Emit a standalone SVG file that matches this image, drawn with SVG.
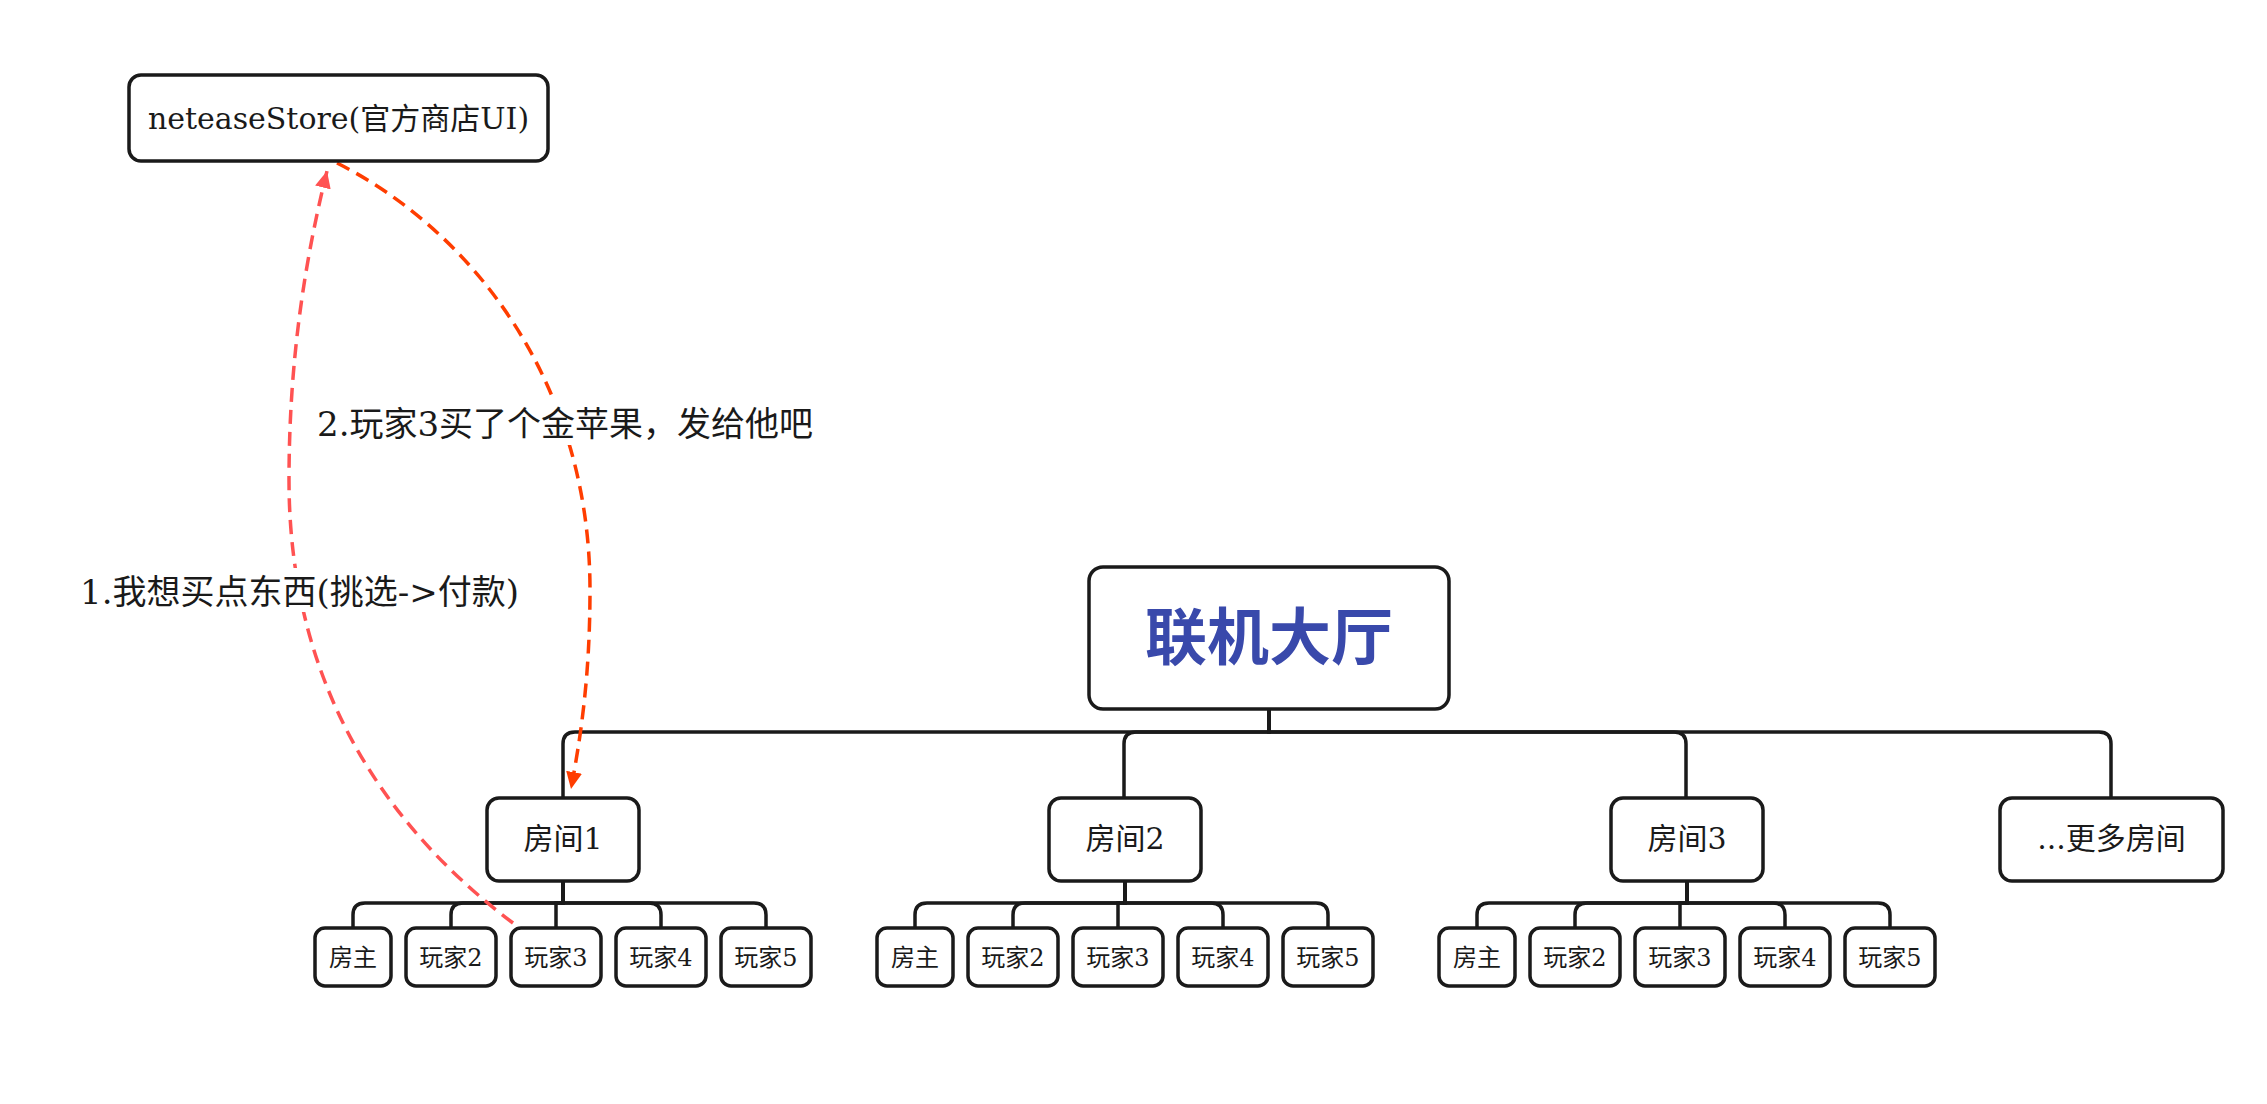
<svg xmlns="http://www.w3.org/2000/svg" width="2267" height="1104" viewBox="0 0 2267 1104">
<style>
.box{fill:#fff;stroke:#1a1a1a;stroke-width:3.5}
.t{font-family:'DejaVu Serif','Noto Sans CJK SC',serif;fill:#1a1a1a;text-anchor:middle}
.lbl{font-family:'DejaVu Serif','Noto Sans CJK SC',serif;fill:#1a1a1a;font-size:34px}
.room{font-size:30px}
.kid{font-size:24px}
.conn{fill:none;stroke:#1a1a1a;stroke-width:3.5}
.c1{fill:none;stroke:#ff5252;stroke-width:3.5;stroke-dasharray:14 8}
.c2{fill:none;stroke:#ff3d00;stroke-width:3.5;stroke-dasharray:14 8}
</style>
<defs>
<marker id="a1" markerUnits="userSpaceOnUse" markerWidth="18" markerHeight="16" refX="17" refY="8" orient="auto"><path d="M0,0 L17,8 L0,16 Z" fill="#ff5252"/></marker>
<marker id="a2" markerUnits="userSpaceOnUse" markerWidth="18" markerHeight="16" refX="17" refY="8" orient="auto"><path d="M0,0 L17,8 L0,16 Z" fill="#ff3d00"/></marker>
</defs>
<rect width="2267" height="1104" fill="#fff"/>
<g id="connectors">
<path class="conn" d="M1269 709 V732 H575 Q563 732 563 744 V798"/>
<path class="conn" d="M1269 709 V732 H1136 Q1124 732 1124 744 V798"/>
<path class="conn" d="M1269 709 V732 H1674 Q1686 732 1686 744 V798"/>
<path class="conn" d="M1269 709 V732 H2099 Q2111 732 2111 744 V798"/>
<g id="kids1">
<path class="conn" d="M563 881 V903 H365 Q353 903 353 915 V928"/>
<path class="conn" d="M563 881 V903 H463 Q451 903 451 915 V928"/>
<path class="conn" d="M563 881 V903 H556 V928"/>
<path class="conn" d="M563 881 V903 H649 Q661 903 661 915 V928"/>
<path class="conn" d="M563 881 V903 H754 Q766 903 766 915 V928"/>
</g>
<g transform="translate(562 0)">
<path class="conn" d="M563 881 V903 H365 Q353 903 353 915 V928"/>
<path class="conn" d="M563 881 V903 H463 Q451 903 451 915 V928"/>
<path class="conn" d="M563 881 V903 H556 V928"/>
<path class="conn" d="M563 881 V903 H649 Q661 903 661 915 V928"/>
<path class="conn" d="M563 881 V903 H754 Q766 903 766 915 V928"/>
</g>
<g transform="translate(1124 0)">
<path class="conn" d="M563 881 V903 H365 Q353 903 353 915 V928"/>
<path class="conn" d="M563 881 V903 H463 Q451 903 451 915 V928"/>
<path class="conn" d="M563 881 V903 H556 V928"/>
<path class="conn" d="M563 881 V903 H649 Q661 903 661 915 V928"/>
<path class="conn" d="M563 881 V903 H754 Q766 903 766 915 V928"/>
</g>
<path class="c1" d="M513 923 C400 838 289 700 289 480 C289 360 305 260 327 171" marker-end="url(#a1)"/>
<path class="c2" d="M337 163 C470 230 590 380 590 590 C590 680 580 740 571 789" marker-end="url(#a2)"/>
<g id="labels">
<rect x="78" y="568" width="438" height="44" fill="#fff"/>
<text class="lbl" x="80" y="604">1.我想买点东西(挑选-&gt;付款)</text>
<rect x="314" y="401" width="510" height="44" fill="#fff"/>
<text class="lbl" x="317" y="436">2.玩家3买了个金苹果，发给他吧</text>
</g>
</g>
<g id="store"><rect class="box" x="129" y="75" width="419" height="86" rx="12"/><text class="t" x="338.5" y="129" font-size="30">neteaseStore(官方商店UI)</text></g>
<g id="hall"><rect class="box" x="1089" y="567" width="360" height="142" rx="14"/><text x="1269" y="660" text-anchor="middle" font-family="'Noto Sans CJK SC',sans-serif" font-weight="bold" font-size="62" fill="#3949ab">联机大厅</text></g>
<g id="room1"><rect class="box" x="487" y="798" width="152" height="83" rx="12"/><text class="t room" x="563" y="849">房间1</text></g>
<g id="room2"><rect class="box" x="1049" y="798" width="152" height="83" rx="12"/><text class="t room" x="1125" y="849">房间2</text></g>
<g id="room3"><rect class="box" x="1611" y="798" width="152" height="83" rx="12"/><text class="t room" x="1687" y="849">房间3</text></g>
<g id="more"><rect class="box" x="2000" y="798" width="223" height="83" rx="12"/><text class="t room" x="2111.5" y="849">...更多房间</text></g>
<g id="r1-host"><rect class="box" x="315" y="928" width="76" height="58" rx="10"/><text class="t kid" x="353" y="966">房主</text></g>
<g id="r1-p2"><rect class="box" x="406" y="928" width="90" height="58" rx="10"/><text class="t kid" x="451" y="966">玩家2</text></g>
<g id="r1-p3"><rect class="box" x="511" y="928" width="90" height="58" rx="10"/><text class="t kid" x="556" y="966">玩家3</text></g>
<g id="r1-p4"><rect class="box" x="616" y="928" width="90" height="58" rx="10"/><text class="t kid" x="661" y="966">玩家4</text></g>
<g id="r1-p5"><rect class="box" x="721" y="928" width="90" height="58" rx="10"/><text class="t kid" x="766" y="966">玩家5</text></g>
<g id="r2-host"><rect class="box" x="877" y="928" width="76" height="58" rx="10"/><text class="t kid" x="915" y="966">房主</text></g>
<g id="r2-p2"><rect class="box" x="968" y="928" width="90" height="58" rx="10"/><text class="t kid" x="1013" y="966">玩家2</text></g>
<g id="r2-p3"><rect class="box" x="1073" y="928" width="90" height="58" rx="10"/><text class="t kid" x="1118" y="966">玩家3</text></g>
<g id="r2-p4"><rect class="box" x="1178" y="928" width="90" height="58" rx="10"/><text class="t kid" x="1223" y="966">玩家4</text></g>
<g id="r2-p5"><rect class="box" x="1283" y="928" width="90" height="58" rx="10"/><text class="t kid" x="1328" y="966">玩家5</text></g>
<g id="r3-host"><rect class="box" x="1439" y="928" width="76" height="58" rx="10"/><text class="t kid" x="1477" y="966">房主</text></g>
<g id="r3-p2"><rect class="box" x="1530" y="928" width="90" height="58" rx="10"/><text class="t kid" x="1575" y="966">玩家2</text></g>
<g id="r3-p3"><rect class="box" x="1635" y="928" width="90" height="58" rx="10"/><text class="t kid" x="1680" y="966">玩家3</text></g>
<g id="r3-p4"><rect class="box" x="1740" y="928" width="90" height="58" rx="10"/><text class="t kid" x="1785" y="966">玩家4</text></g>
<g id="r3-p5"><rect class="box" x="1845" y="928" width="90" height="58" rx="10"/><text class="t kid" x="1890" y="966">玩家5</text></g>
</svg>
